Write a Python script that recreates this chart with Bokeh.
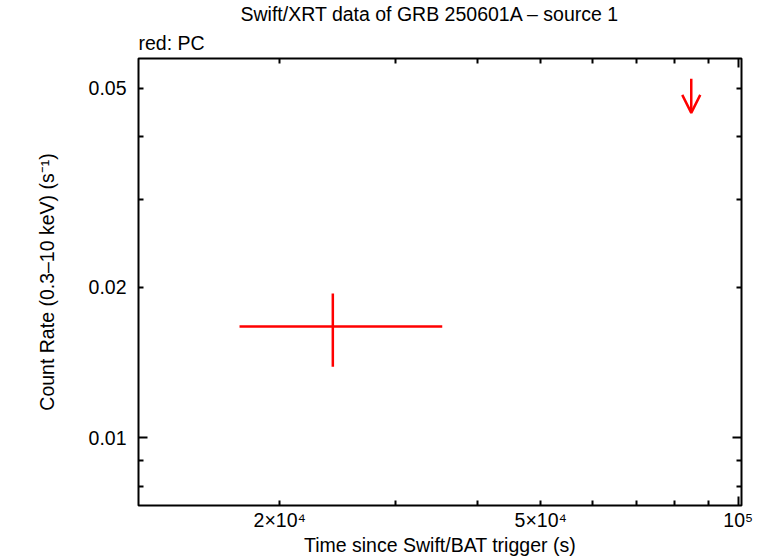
from bokeh.plotting import figure
from bokeh.models import FixedTicker, LogAxis, Title, ColumnDataSource, Arrow, OpenHead
from bokeh.embed import file_html
from bokeh.resources import INLINE

# ---- data ----
pc_time = [24095]
pc_time_lo = [17365]
pc_time_hi = [35380]
pc_rate = [0.01669]
pc_rate_lo = [0.01387]
pc_rate_hi = [0.01944]

ul_time = [84800]
ul_rate = [0.05229]
ul_tip = [0.04467]

x_major = [2e4, 5e4, 1e5]
x_major_labels = ["2×10⁴", "5×10⁴", "10⁵"]
x_minor = [3e4, 4e4, 6e4, 7e4, 8e4, 9e4]
x_decade = [1e5]
y_major = [0.01, 0.02, 0.05]
y_major_labels = ["0.01", "0.02", "0.05"]
y_minor = [0.008, 0.009, 0.03, 0.04]
y_decade = [0.01]

x_lim = (12180, 101160)
y_lim = (0.00732, 0.05737)

title_text = "Swift/XRT data of GRB 250601A – source 1"
subtitle_text = "red: PC"
x_label = "Time since Swift/BAT trigger (s)"
y_label = "Count Rate (0.3–10 keV) (s⁻¹)"

FONT = "Liberation Sans"
FS = "19.5px"
RED = "#ff0000"

p = figure(width=760, height=558, x_axis_type="log", y_axis_type="log",
           x_range=x_lim, y_range=y_lim, output_backend="svg", toolbar_location=None,
           min_border_left=138, min_border_right=19, min_border_top=58, min_border_bottom=51)
p.xgrid.grid_line_color = None
p.ygrid.grid_line_color = None
p.outline_line_color = "black"
p.outline_line_width = 2
p.outline_line_alpha = 1.0
p.background_fill_color = "white"
p.border_fill_color = "white"


def tick_only(ax, decade, minors, tick_in_major=9, tick_in_minor=5):
    ax.ticker = FixedTicker(ticks=decade, minor_ticks=minors)
    ax.axis_line_color = None
    ax.major_tick_in = tick_in_major
    ax.major_tick_out = 0
    ax.minor_tick_in = tick_in_minor
    ax.minor_tick_out = 0
    ax.major_tick_line_width = 2
    ax.minor_tick_line_width = 2
    ax.major_tick_line_color = "black"
    ax.minor_tick_line_color = "black"
    ax.major_label_text_font_size = "1px"
    ax.major_label_text_alpha = 0
    ax.major_label_standoff = 0


x_all_minor = sorted([v for v in x_major if v not in x_decade] + x_minor)
y_all_minor = sorted([v for v in y_major if v not in y_decade] + y_minor)

# inner (tick-only) axes on all four sides
tick_only(p.xaxis[0], x_decade, x_all_minor)
tick_only(p.yaxis[0], y_decade, y_all_minor)
top_ax = LogAxis()
tick_only(top_ax, x_decade, x_all_minor)
p.add_layout(top_ax, "above")
right_ax = LogAxis()
tick_only(right_ax, y_decade, y_all_minor)
p.add_layout(right_ax, "right")


# labelled axes (no tick marks)
def labelled(ax, ticks, labels, label, standoff, label_standoff):
    ax.ticker = FixedTicker(ticks=ticks, minor_ticks=[])
    ax.major_label_overrides = {float(t): s for t, s in zip(ticks, labels)}
    ax.axis_line_color = None
    ax.major_tick_in = 0
    ax.major_tick_out = 0
    ax.minor_tick_in = 0
    ax.minor_tick_out = 0
    ax.major_label_text_font = FONT
    ax.major_label_text_font_size = FS
    ax.major_label_text_color = "black"
    ax.major_label_standoff = standoff
    ax.axis_label = label
    ax.axis_label_text_font = FONT
    ax.axis_label_text_font_size = FS
    ax.axis_label_text_font_style = "normal"
    ax.axis_label_text_color = "black"
    ax.axis_label_standoff = label_standoff


bx = LogAxis()
labelled(bx, x_major, x_major_labels, x_label, 3, 0)
p.add_layout(bx, "below")
ly = LogAxis()
labelled(ly, y_major, y_major_labels, y_label, 12, 28)
p.add_layout(ly, "left")

# titles
t1 = Title(text=subtitle_text, align="left", text_font=FONT, text_font_size=FS,
           text_font_style="normal", text_color="black", standoff=10, offset=0)
p.add_layout(t1, "above")
t0 = Title(text=title_text, align="left", offset=102, text_font=FONT, text_font_size=FS,
           text_font_style="normal", text_color="black", standoff=0)
p.add_layout(t0, "above")

# data marks
p.segment(x0=pc_time_lo, y0=pc_rate, x1=pc_time_hi, y1=pc_rate, line_color=RED, line_width=2.5)
p.segment(x0=pc_time, y0=pc_rate_lo, x1=pc_time, y1=pc_rate_hi, line_color=RED, line_width=2.5)

ul_src = ColumnDataSource(dict(x=ul_time, y0=ul_rate, y1=ul_tip))
p.add_layout(Arrow(end=OpenHead(size=18, line_color=RED, line_width=2.5),
                   x_start="x", y_start="y0", x_end="x", y_end="y1", source=ul_src,
                   line_color=RED, line_width=2.5))

open("out.html", "w").write(file_html(p, INLINE))
